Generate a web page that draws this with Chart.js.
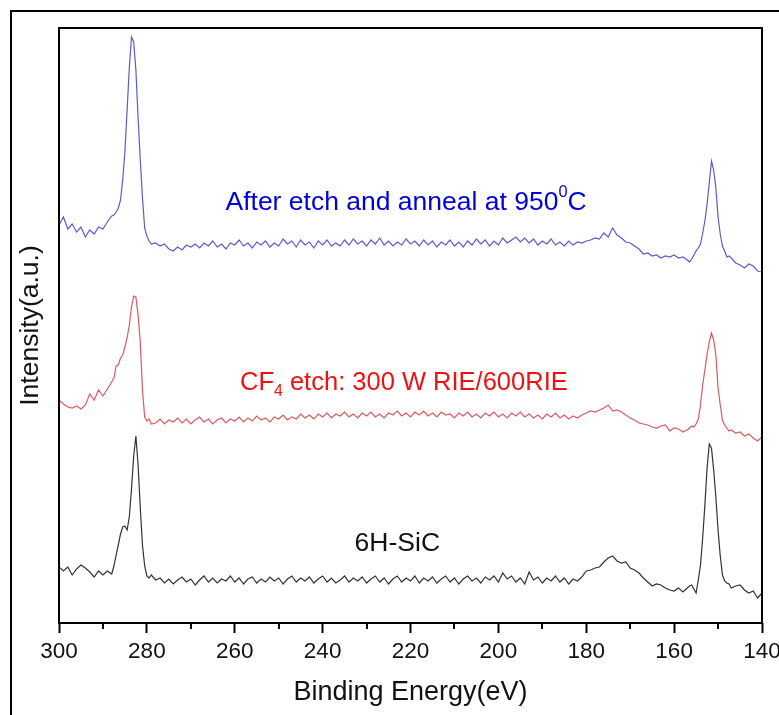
<!DOCTYPE html>
<html>
<head>
<meta charset="utf-8">
<script src="https://cdn.jsdelivr.net/npm/chart.js@4.4.1/dist/chart.umd.min.js"></script>
<style>
  html, body { margin: 0; padding: 0; background: #fff; }
  #xpsChart { display: block; }
</style>
</head>
<body>
<canvas id="xpsChart" width="779" height="715"></canvas>
<script>
// binding energy (eV), finer steps around the C1s and Si2p peaks
const energies = [
  300, 299, 298, 297, 296, 295, 294, 293, 292, 291, 290, 289, 288,
  287.5, 287, 286.5, 286, 285.5, 285, 284.5, 284, 283.5, 283, 282.5, 282, 281.5, 281, 280.5, 280, 279.5, 279,
  278, 277, 276, 275, 274, 273, 272, 271, 270, 269,
  268, 267, 266, 265, 264, 263, 262, 261, 260, 259,
  258, 257, 256, 255, 254, 253, 252, 251, 250, 249,
  248, 247, 246, 245, 244, 243, 242, 241, 240, 239,
  238, 237, 236, 235, 234, 233, 232, 231, 230, 229,
  228, 227, 226, 225, 224, 223, 222, 221, 220, 219,
  218, 217, 216, 215, 214, 213, 212, 211, 210, 209,
  208, 207, 206, 205, 204, 203, 202, 201, 200, 199,
  198, 197, 196, 195, 194, 193, 192, 191, 190, 189,
  188, 187, 186, 185, 184, 183, 182, 181, 180, 179,
  178, 177, 176, 175, 174, 173, 172, 171, 170, 169,
  168, 167, 166, 165, 164, 163, 162, 161, 160, 159,
  158, 157,
  156.5, 156, 155.5, 155, 154.5, 154, 153.5, 153, 152.5, 152, 151.5, 151, 150.5, 150, 149.5, 149, 148.5, 148, 147.5, 147,
  146, 145, 144, 143, 142, 141, 140
];

// intensity (a.u.), traces already offset for stacking
const annealed = [
  398, 406, 394, 399, 391, 396, 386, 393, 389, 396, 394, 401, 407,
  408, 411, 415, 423, 443, 471, 513, 555, 586, 581, 553, 505, 463, 425, 395, 387, 382, 379,
  380, 377, 379, 374, 372, 376, 373, 378, 376, 379,
  375, 380, 377, 382, 376, 379, 374, 380, 378, 383,
  377, 380, 375, 381, 378, 382, 376, 380, 377, 384,
  379, 382, 376, 383, 378, 381, 375, 382, 378, 383,
  377, 380, 377, 383, 378, 384, 379, 382, 377, 383,
  379, 385, 378, 382, 377, 381, 378, 384, 379, 382,
  377, 383, 378, 382, 376, 381, 378, 383, 377, 381,
  376, 382, 378, 384, 379, 383, 377, 382, 378, 385,
  380, 383, 386, 381, 385, 380, 384, 378, 382, 379,
  384, 378, 381, 377, 382, 378, 381, 380, 382, 383,
  385, 384, 390, 386, 395, 388, 385, 381, 380, 377,
  374, 369, 370, 367, 368, 365, 367, 366, 368, 365,
  366, 363,
  361, 364, 368, 372, 375, 379, 390, 402, 419, 440, 462, 453, 435, 406, 389, 377, 372, 366, 367, 365,
  360, 358, 355, 359, 357, 352, 351
];

const etched = [
  223, 219, 216, 215, 217, 214, 218, 229, 223, 233, 227, 234, 241,
  245, 257, 258, 265, 268, 276, 285, 298, 316, 327, 326, 308, 281, 233, 206, 202, 204, 199,
  200, 204, 199, 203, 201, 205, 200, 204, 199, 203,
  206, 201, 204, 199, 203, 205, 200, 204, 202, 206,
  201, 205, 202, 207, 203, 205, 201, 206, 204, 208,
  203, 206, 204, 209, 205, 208, 204, 209, 206, 210,
  205, 209, 207, 211, 206, 209, 205, 210, 207, 211,
  206, 209, 205, 210, 208, 212, 207, 210, 206, 211,
  208, 212, 207, 210, 206, 211, 208, 209, 205, 210,
  207, 211, 206, 209, 205, 210, 207, 211, 206, 209,
  205, 210, 207, 211, 206, 209, 205, 208, 204, 209,
  206, 210, 205, 208, 204, 207, 205, 208, 210, 212,
  211, 213, 215, 218, 212, 213, 211, 208, 205, 203,
  200, 199, 198, 196, 195, 197, 198, 192, 195, 194,
  191, 193,
  195, 197, 196, 199, 204, 218, 238, 253, 269, 281, 290, 283, 268, 235, 218, 203, 198, 195, 192, 193,
  190, 191, 187, 189, 185, 182, 186
];

const substrate = [
  56, 52, 56, 48, 54, 58, 55, 51, 46, 52, 48, 52, 49,
  57, 68, 78, 89, 96, 97, 93, 106, 134, 167, 187, 158, 115, 78, 57, 47, 45, 48,
  43, 45, 40, 44, 39, 43, 46, 41, 44, 38,
  43, 47, 41, 45, 40, 44, 42, 47, 41, 45,
  39, 44, 46, 40, 44, 41, 46, 42, 45, 39,
  44, 47, 41, 45, 42, 46, 40, 44, 47, 41,
  45, 40, 43, 47, 41, 45, 42, 46, 40, 44,
  47, 41, 45, 39, 44, 47, 41, 45, 42, 47,
  40, 45, 42, 46, 40, 44, 47, 41, 45, 39,
  44, 47, 42, 45, 40, 46, 43, 47, 41, 50,
  44, 47, 41, 45, 39, 51, 43, 46, 40, 45,
  42, 47, 41, 45, 39, 44, 42, 46, 52, 53,
  55, 56, 61, 65, 67, 62, 60, 61, 55, 53,
  50, 45, 41, 37, 39, 38, 35, 33, 32, 35,
  31, 35,
  37, 38, 34, 30, 43, 58, 85, 118, 155, 179, 175, 153, 126, 93, 67, 48, 42, 40, 39, 35,
  37, 38, 33, 30, 32, 25, 30
];

// labels placed next to each trace: [energy, intensity]
const labels = [
  { at: [221, 413], color: '#0000dd', size: 26.5, parts: [['After etch and anneal at 950', 0], ['0', -1], ['C', 0]] },
  { at: [221.5, 233], color: '#ee1111', size: 25.5, parts: [['CF', 0], ['4', 1], [' etch: 300 W RIE/600RIE', 0]] },
  { at: [223, 72], color: '#111111', size: 26.5, parts: [['6H-SiC', 0]] }
];

const FONT = '"Liberation Sans", Arial, sans-serif';

function toPoints(values) {
  return energies.map((e, i) => ({ x: e, y: values[i] }));
}

// frames, minor ticks and trace labels
const decorations = {
  id: 'decorations',
  afterDraw(chart) {
    const { ctx, chartArea: a, scales: { x, y } } = chart;
    ctx.save();
    ctx.strokeStyle = '#000';

    ctx.lineWidth = 2;
    ctx.strokeRect(11, 11, 900, 900);
    ctx.strokeRect(a.left, a.top, a.right - a.left, a.bottom - a.top);

    // short ticks at the odd tens
    for (let v = 150; v < 300; v += 20) {
      const px = Math.round(x.getPixelForValue(v));
      ctx.beginPath();
      ctx.moveTo(px, a.bottom);
      ctx.lineTo(px, a.bottom + 6);
      ctx.stroke();
    }

    labels.forEach(l => {
      const size = l.size;
      const widths = l.parts.map(([t, s]) => {
        ctx.font = (s ? size * 0.62 : size) + 'px ' + FONT;
        return ctx.measureText(t).width;
      });
      const total = widths.reduce((p, c) => p + c, 0);
      let cx = x.getPixelForValue(l.at[0]) - total / 2;
      const base = y.getPixelForValue(l.at[1]);
      ctx.fillStyle = l.color;
      ctx.textBaseline = 'alphabetic';
      ctx.textAlign = 'left';
      l.parts.forEach(([t, s], i) => {
        ctx.font = (s ? size * 0.62 : size) + 'px ' + FONT;
        const dy = s < 0 ? -size * 0.5 : s > 0 ? size * 0.22 : 0;
        ctx.fillText(t, cx, base + dy);
        cx += widths[i];
      });
    });
    ctx.restore();
  }
};

document.addEventListener('DOMContentLoaded', function () {
  const ctx = document.getElementById('xpsChart').getContext('2d');
  new Chart(ctx, {
    type: 'scatter',
    data: {
      datasets: [
        { label: 'After etch and anneal', data: toPoints(annealed), borderColor: '#5b5bd0' },
        { label: 'CF4 etch', data: toPoints(etched), borderColor: '#dc5a5e' },
        { label: '6H-SiC', data: toPoints(substrate), borderColor: '#333333' }
      ].map(d => Object.assign(d, { showLine: true, pointRadius: 0, borderWidth: 1.2, tension: 0 }))
    },
    options: {
      responsive: false,
      animation: false,
      devicePixelRatio: 1,
      layout: { padding: { top: 28, right: 17, left: 0, bottom: 0 } },
      plugins: { legend: { display: false }, tooltip: { enabled: false } },
      scales: {
        x: {
          type: 'linear',
          reverse: true,
          min: 140,
          max: 300,
          // fixed height, and no extra room for the end labels
          afterFit: s => { s.height = 92; s.paddingLeft = 0; s.paddingRight = 0; },
          border: { display: false },
          grid: {
            drawOnChartArea: false,
            tickLength: 10,
            tickWidth: 2,
            tickColor: c => (c.tick && c.tick.value % 20 === 0 ? '#000' : 'rgba(0,0,0,0)')
          },
          ticks: {
            stepSize: 10,
            autoSkip: false,
            maxRotation: 0,
            padding: 5,
            color: '#111',
            font: { family: FONT, size: 22.5 },
            callback: v => (v % 20 === 0 ? v : '')
          },
          title: {
            display: true,
            text: 'Binding Energy(eV)',
            color: '#111',
            font: { family: FONT, size: 27 },
            padding: { top: 0, bottom: 6 }
          }
        },
        y: {
          min: 0,
          max: 595,
          afterFit: s => { s.width = 59; },
          border: { display: false },
          grid: { display: false },
          ticks: { display: false },
          title: {
            display: true,
            text: 'Intensity(a.u.)',
            color: '#111',
            font: { family: FONT, size: 26.5 },
            padding: { top: 15, bottom: 0 }
          }
        }
      }
    },
    plugins: [decorations]
  });
});
</script>
</body>
</html>
